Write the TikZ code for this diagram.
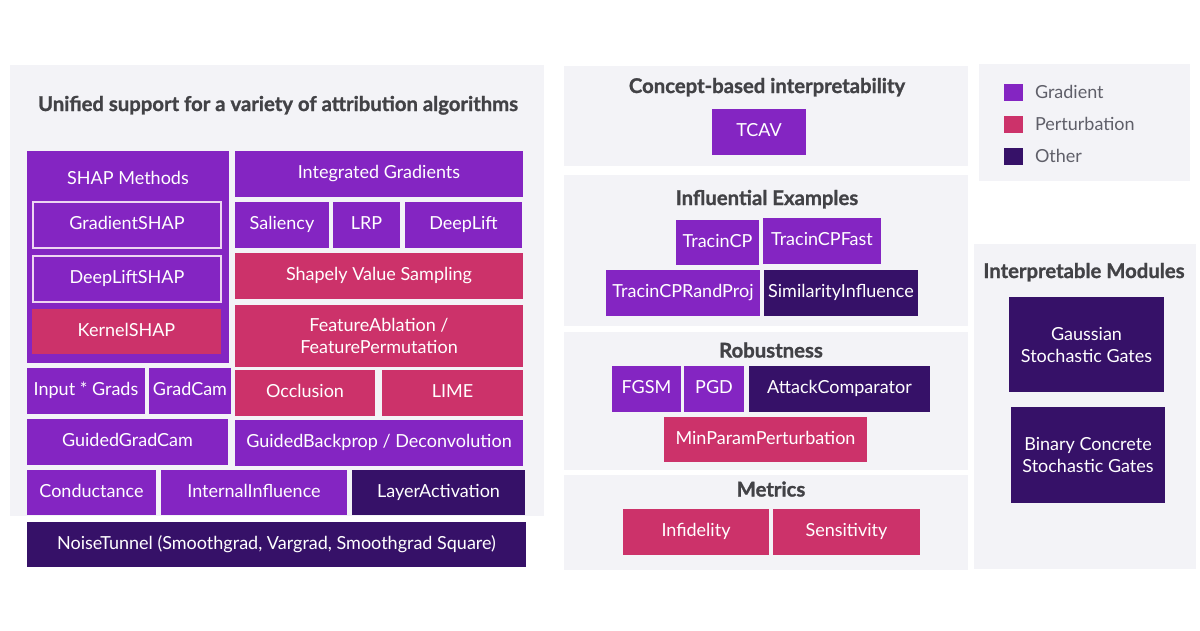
\documentclass[tikz,border=0pt]{standalone}
\usepackage{fontspec}
\setmainfont{Lato}
\newfontfamily\headfont{Lato}[FakeBold=1.2]
\usepackage{xcolor}
\definecolor{algoGrad}{RGB}{132,37,194}
\definecolor{algoPert}{RGB}{204,50,106}
\definecolor{algoOther}{RGB}{54,17,104}
\definecolor{shapEdge}{RGB}{238,212,242}
\definecolor{panelGray}{RGB}{243,243,247}
\definecolor{titleGray}{RGB}{66,66,70}
\definecolor{legendGray}{RGB}{95,95,105}
\usepackage{tikz}
\usetikzlibrary{positioning}

\begin{document}
\begin{tikzpicture}[x=1pt, y=-1pt,
  every node/.style={inner sep=0pt, outer sep=0pt, align=center, font=\fontsize{18}{22}\selectfont},
  oneline/.style={text height=13pt, text depth=4pt},
  twoline/.style={text height={}, text depth={}},
  algobox/.style={text=white, oneline},
  grad/.style={algobox, fill=algoGrad},
  pert/.style={algobox, fill=algoPert},
  other/.style={algobox, fill=algoOther},
  shapitem/.style={grad, draw=shapEdge, line width=1.4pt},
  paneltitle/.style={text height=14.5pt, text depth=4.5pt, text=titleGray, font=\fontsize{20.3}{24}\selectfont\headfont\bfseries}]
  \fill[white] (0,0) rectangle (1200,630);
  \useasboundingbox (0,0) rectangle (1200,630);

  % panels
  \fill[panelGray] (10,65) rectangle (544,516);
  \fill[panelGray] (564,66) rectangle (968,166);
  \fill[panelGray] (564,175) rectangle (968,326);
  \fill[panelGray] (564,332) rectangle (968,470);
  \fill[panelGray] (564,475) rectangle (968,570);
  \fill[panelGray] (979,64) rectangle (1190,181);
  \fill[panelGray] (974,244) rectangle (1196,569);

  % attribution algorithms
  \node[paneltitle] (attrtitle) at (278,106) {Unified support for a variety of attribution algorithms};
  \node[grad, minimum width=202, minimum height=212] (shap) at (128,257) {};
  \node[text=white, oneline] (shaplabel) at (128,180) {SHAP Methods};
  \node[shapitem, minimum width=188, minimum height=46] (gshap) at (127,225) {GradientSHAP};
  \node[shapitem, minimum width=188, minimum height=46] (dshap) at (127,279) {DeepLiftSHAP};
  \node[pert, minimum width=189, minimum height=45] (kshap) at (126.5,331.5) {KernelSHAP};
  \node[grad, minimum width=288, minimum height=46] (ig) at (379,174) {Integrated Gradients};
  \node[grad, minimum width=94, minimum height=46] (saliency) at (282,225) {Saliency};
  \node[grad, minimum width=67, minimum height=46] (lrp) at (366.5,225) {LRP};
  \node[grad, minimum width=117, minimum height=46] (deeplift) at (463.5,225) {DeepLift};
  \node[pert, minimum width=288, minimum height=46] (svs) at (379,276) {Shapely Value Sampling};
  \node[pert, twoline, minimum width=288, minimum height=62] (ablation) at (379,336) {FeatureAblation /\\FeaturePermutation};
  \node[grad, minimum width=118, minimum height=46] (inputgrads) at (86,391) {Input * Grads};
  \node[grad, minimum width=82, minimum height=46] (gradcam) at (190,391) {GradCam};
  \node[pert, minimum width=140, minimum height=46] (occlusion) at (305,393) {Occlusion};
  \node[pert, minimum width=141, minimum height=46] (lime) at (452.5,393) {LIME};
  \node[grad, minimum width=201, minimum height=46] (ggradcam) at (127.5,442) {GuidedGradCam};
  \node[grad, minimum width=288, minimum height=46] (gbackprop) at (379,443) {GuidedBackprop / Deconvolution};
  \node[grad, minimum width=129, minimum height=45] (conductance) at (91.5,492.5) {Conductance};
  \node[grad, minimum width=186, minimum height=45] (intinfl) at (254,492.5) {InternalInfluence};
  \node[other, minimum width=173, minimum height=45] (layeract) at (438.5,492.5) {LayerActivation};
  \node[other, minimum width=499, minimum height=45] (noisetunnel) at (276.5,544.5) {NoiseTunnel (Smoothgrad, Vargrad, Smoothgrad Square)};

  % concepts, influence, robustness, metrics
  \node[paneltitle] (concepttitle) at (767,88) {Concept-based interpretability};
  \node[grad, minimum width=94, minimum height=46] (tcav) at (759,132) {TCAV};
  \node[paneltitle] (infltitle) at (767,200) {Influential Examples};
  \node[grad, minimum width=83, minimum height=45] (tracincp) at (717.5,242.5) {TracinCP};
  \node[grad, minimum width=118, minimum height=46] (tracinfast) at (822,241) {TracinCPFast};
  \node[grad, minimum width=154, minimum height=46] (tracinproj) at (683,293) {TracinCPRandProj};
  \node[other, minimum width=154, minimum height=46] (similarity) at (841,293) {SimilarityInfluence};
  \node[paneltitle] (robusttitle) at (771,352.5) {Robustness};
  \node[grad, minimum width=69, minimum height=46] (fgsm) at (646.5,389) {FGSM};
  \node[grad, minimum width=60, minimum height=46] (pgd) at (714,389) {PGD};
  \node[other, minimum width=181, minimum height=46] (attackcmp) at (839.5,389) {AttackComparator};
  \node[pert, minimum width=203, minimum height=45] (minparam) at (765.5,439.5) {MinParamPerturbation};
  \node[paneltitle] (metricstitle) at (771,491.5) {Metrics};
  \node[pert, minimum width=146, minimum height=46] (infidelity) at (696,532) {Infidelity};
  \node[pert, minimum width=147, minimum height=46] (sensitivity) at (846.5,532) {Sensitivity};

  % legend
  \foreach \c/\t [count=\i] in {algoGrad/Gradient, algoPert/Perturbation, algoOther/Other} {
    \node[fill=\c, minimum width=19, minimum height=17] (key\i) at (1013,60+32*\i) {};
    \node[oneline, anchor=west, text=legendGray] (keytext\i) at (1035,62+32*\i) {\t};
  }

  % interpretable modules
  \node[paneltitle] (modtitle) at (1084,273) {Interpretable Modules};
  \node[other, twoline, minimum width=155, minimum height=95] (gaussgates) at (1086.5,344.5) {Gaussian\\Stochastic Gates};
  \node[other, twoline, minimum width=154, minimum height=96] (binarygates) at (1088,455) {Binary Concrete\\Stochastic Gates};
\end{tikzpicture}
\end{document}
